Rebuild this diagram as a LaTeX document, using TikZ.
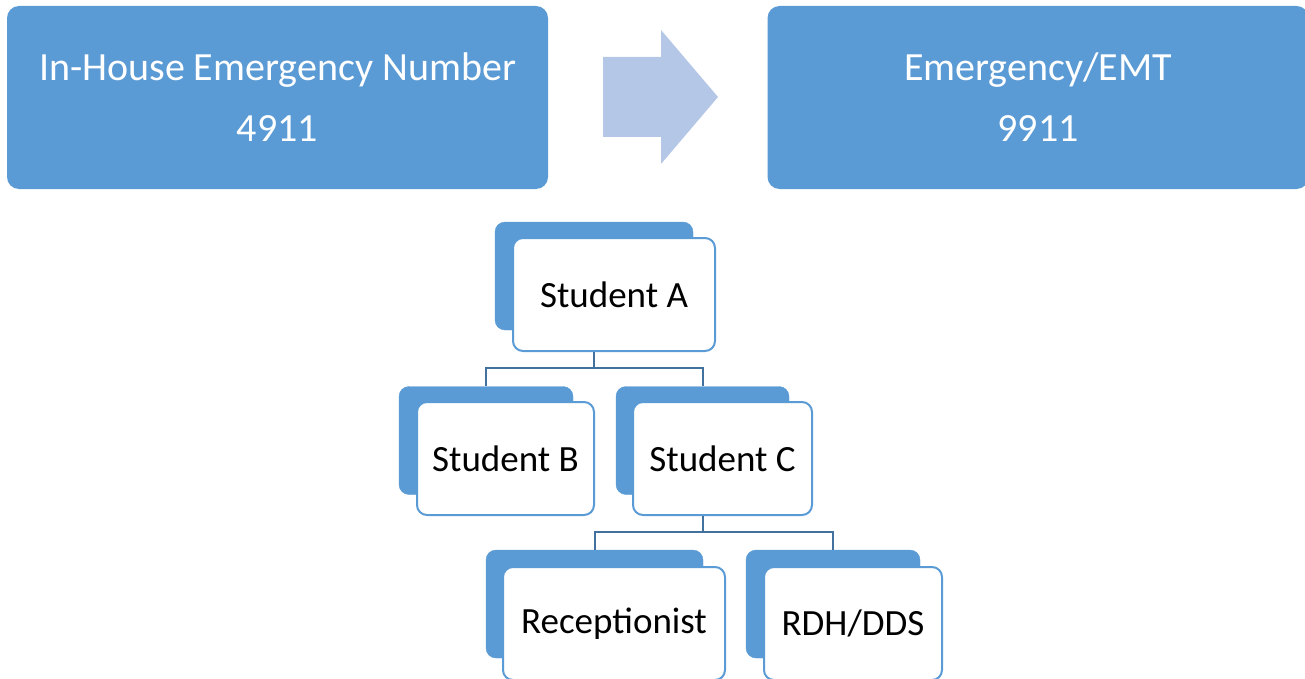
\documentclass[tikz,border=0pt]{standalone}
\usepackage{fontspec}
\setmainfont{Carlito}
\usetikzlibrary{positioning, calc}
\definecolor{cardBlue}{HTML}{5B9BD5}
\definecolor{linkBlue}{HTML}{41719C}
\definecolor{arrowBlueLight}{HTML}{B4C7E7}

\begin{document}
\begin{tikzpicture}[x=1pt, y=1pt,
  every node/.style={font=\fontsize{37}{61}\selectfont},
  topblock/.style={fill=cardBlue, draw=none, rounded corners=12pt,
                   minimum width=541pt, minimum height=183pt,
                   align=center, text=white, font=\fontsize{40}{61}\selectfont},
  backcard/.style={fill=cardBlue, draw=cardBlue, rounded corners=10pt,
                   minimum height=108pt},
  frontcard/.style={fill=white, draw=cardBlue, line width=2pt,
                    rounded corners=10pt, minimum height=113pt, text=black},
  link/.style={draw=linkBlue, line width=2pt}]

  \useasboundingbox (0,0) rectangle (1305,-679);

  %% ═══════════════════════════════════════════════════════════════
  %% TOP ROW: EMERGENCY NUMBERS
  %% ═══════════════════════════════════════════════════════════════

  \node[topblock] (inhouse) at (277.5,-97.5)
      {In-House Emergency Number\\4911};
  \node[topblock] (emt) at (1038,-97.5)
      {Emergency/EMT\\9911};

  \fill[arrowBlueLight] (603,-57) -- (661,-57) -- (661,-30) -- (718,-97)
      -- (661,-164) -- (661,-137) -- (603,-137) -- cycle;

  %% ═══════════════════════════════════════════════════════════════
  %% TREE: STUDENTS
  %% ═══════════════════════════════════════════════════════════════

  \node[backcard, minimum width=198pt] (aback) at (594,-276) {};
  \node[frontcard, minimum width=202pt] (a) at ($(aback)+(20,-18.5)$) {Student A};

  \node[backcard, minimum width=174pt] (bback) at (486,-440.5) {};
  \node[frontcard, minimum width=177pt] (b) at ($(bback)+(19.5,-18)$) {Student B};

  \node[backcard, minimum width=173pt] (cback) at (702.5,-440.5) {};
  \node[frontcard, minimum width=179pt] (c) at ($(cback)+(20,-18)$) {Student C};

  \draw[link] (aback.south |- a.south) -- ++(0,-16) -| (bback.north);
  \draw[link] (aback.south |- a.south) -- ++(0,-16) -| (cback.north);

  %% ═══════════════════════════════════════════════════════════════
  %% BOTTOM ROW: STAFF
  %% ═══════════════════════════════════════════════════════════════

  \node[backcard, minimum width=217pt] (recback) at (594.5,-604) {};
  \node[frontcard, minimum width=222pt] (rec) at ($(recback)+(19.5,-19.5)$) {Receptionist};

  \node[backcard, minimum width=174pt] (rdhback) at (833,-604) {};
  \node[frontcard, minimum width=178pt] (rdh) at ($(rdhback)+(20,-19.5)$) {RDH/DDS};

  \draw[link] (cback.south |- c.south) -- ++(0,-16) -| (recback.north);
  \draw[link] (cback.south |- c.south) -- ++(0,-16) -| (rdhback.north);

\end{tikzpicture}
\end{document}
